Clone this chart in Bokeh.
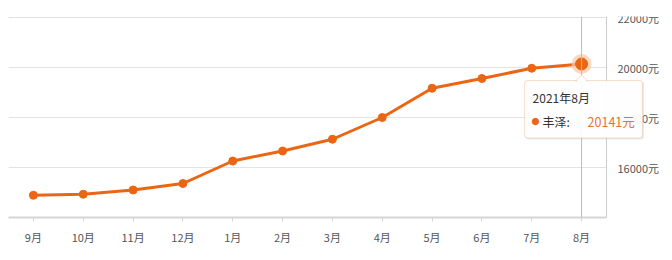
from bokeh.plotting import figure
from bokeh.models import (Range1d, FixedTicker, Span, BoxAnnotation, Label, PolyAnnotation)
from bokeh.core.properties import value
from bokeh.embed import file_html
from bokeh.resources import INLINE

months = ["9月", "10月", "11月", "12月", "1月", "2月", "3月", "4月", "5月", "6月", "7月", "8月"]
prices = [14890, 14930, 15100, 15360, 16260, 16660, 17130, 18000, 19170, 19560, 19970, 20141]
y_ticks = [16000, 18000, 20000, 22000]
tooltip_title = "2021年8月"
series_name = "丰泽:"
tooltip_value = "20141元"

FONT = "Noto Sans CJK SC"
ORANGE = "#eb6614"

W, H = 672, 260
L, T, B = 8, 16, 43
PLOT_W = 598                      # width of the data area (categories)
frame_w = W - L
frame_h = H - T - B
n = len(months)
xs = [i + 0.5 for i in range(n)]
Y0 = 14000
Y1 = 22000 + (22000 - 14000) / (frame_h - 1)

p = figure(width=W, height=H, x_range=Range1d(0, n * frame_w / PLOT_W),
           y_range=Range1d(Y0, Y1), output_backend="svg", toolbar_location=None,
           min_border_left=L, min_border_right=0, min_border_top=T, min_border_bottom=B,
           y_axis_location=None)
p.outline_line_color = None
p.xgrid.grid_line_color = None
p.ygrid.grid_line_color = None

# horizontal grid lines limited to data area
p.segment(x0=[0] * len(y_ticks), x1=[n] * len(y_ticks), y0=y_ticks, y1=y_ticks,
          line_color="#e3e3e3", line_width=1)

# bottom axis
xa = p.xaxis[0]
xa.ticker = FixedTicker(ticks=xs)
xa.major_label_overrides = {x: m for x, m in zip(xs, months)}
xa.bounds = (0, n)
xa.axis_line_color = "#d6d6d6"
xa.axis_line_width = 2
xa.major_tick_line_color = "#d6d6d6"
xa.major_tick_in = 0
xa.major_tick_out = 4
xa.minor_tick_line_color = None
xa.major_label_text_font = FONT
xa.major_label_text_font_size = "11px"
xa.major_label_text_color = "#555555"
xa.major_label_standoff = 7

# right value axis (line + labels)
p.add_layout(Span(location=n, dimension="height", line_color="#cccccc", line_width=1))
p.text(x=[n] * len(y_ticks), y=y_ticks, text=[f"{t}元" for t in y_ticks], x_offset=11,
       text_font=value(FONT), text_font_size="11px", text_color="#555555", text_baseline="middle")

# crosshair at last point
last_x = xs[-1]
last_y = prices[-1]
p.add_layout(Span(location=last_x, dimension="height", line_color="#bbbbbb", line_width=1))

p.line(xs, prices, line_color=ORANGE, line_width=3)
p.scatter(xs[:-1], prices[:-1], size=8, fill_color=ORANGE, line_color=ORANGE)
p.scatter([last_x], [last_y], size=20, fill_color="#f9c9a6", line_color=None, fill_alpha=0.7)
p.scatter([last_x], [last_y], size=12, fill_color=ORANGE, line_color=ORANGE)

# tooltip geometry in pixel offsets from the highlighted point
px_x = n / PLOT_W
px_y = (Y1 - Y0) / frame_h
def dx(px): return last_x + px * px_x
def dy(px): return last_y - px * px_y  # px measured downward

BORDER = "#e08a4c"
# soft shadow
p.add_layout(BoxAnnotation(left=dx(-56), right=dx(62.5), top=dy(17.5), bottom=dy(75.5),
                           fill_color="#c8c8c8", fill_alpha=0.35, line_color=None,
                           border_radius=3, level="overlay"))
box = BoxAnnotation(left=dx(-57), right=dx(61), top=dy(16.5), bottom=dy(74),
                    fill_color="white", fill_alpha=0.92, line_color=BORDER, line_width=1,
                    border_radius=3, level="overlay")
p.add_layout(box)
p.add_layout(PolyAnnotation(xs=[dx(-6), dx(0), dx(6)], ys=[dy(17), dy(11), dy(17)],
                            fill_color="white", fill_alpha=1, line_color=BORDER, line_width=1,
                            level="overlay"))
p.add_layout(PolyAnnotation(xs=[dx(-5), dx(0), dx(5)], ys=[dy(17.7), dy(13), dy(17.7)],
                            fill_color="white", fill_alpha=1, line_color=None, level="overlay"))

p.add_layout(Label(x=dx(-49), y=dy(33.5), text=tooltip_title, text_font=FONT, text_font_size="12px",
                   text_color="#333333", text_baseline="middle", level="overlay"))
p.add_layout(Label(x=dx(-46), y=dy(57.5), text="●", text_font=FONT, text_font_size="8px",
                   text_color=ORANGE, text_baseline="middle", text_align="center", level="overlay"))
p.add_layout(Label(x=dx(-39), y=dy(57.5), text=series_name, text_font=FONT, text_font_size="12px",
                   text_color="#333333", text_baseline="middle", level="overlay"))
p.add_layout(Label(x=dx(6), y=dy(57.5), text=tooltip_value, text_font=FONT, text_font_size="12.5px",
                   text_color="#e2742e", text_baseline="middle", level="overlay"))

open("out.html", "w").write(file_html(p, INLINE))
